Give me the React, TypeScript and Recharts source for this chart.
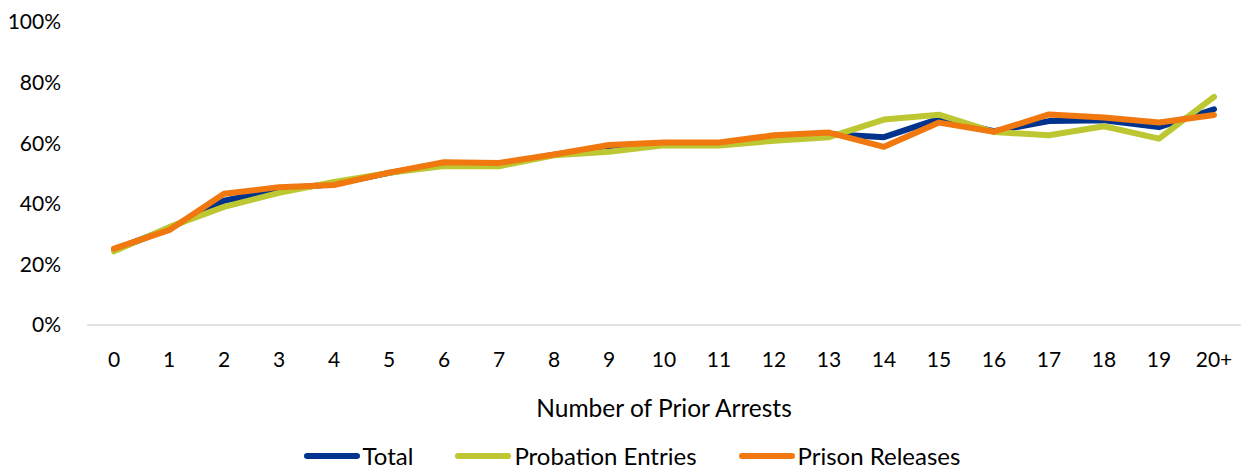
import { LineChart, Line, XAxis, YAxis, Legend, Label } from 'recharts'

const categories = ['0', '1', '2', '3', '4', '5', '6', '7', '8', '9', '10', '11', '12', '13', '14', '15', '16', '17', '18', '19', '20+']
const total = [24.8, 31.8, 41.0, 44.8, 46.5, 50.2, 53.3, 53.0, 56.2, 58.8, 60.0, 59.8, 62.0, 63.0, 62.0, 68.0, 64.0, 67.3, 67.6, 65.3, 71.2]
const probation = [24.3, 32.3, 39.0, 43.6, 47.2, 50.2, 52.5, 52.4, 56.0, 57.2, 59.3, 59.2, 60.8, 62.0, 67.8, 69.4, 63.7, 62.6, 65.6, 61.5, 75.3]
const prison = [25.2, 31.3, 43.3, 45.5, 46.2, 50.3, 53.7, 53.5, 56.3, 59.4, 60.2, 60.2, 62.6, 63.5, 58.8, 66.8, 63.8, 69.5, 68.5, 66.8, 69.3]
const yTicks = [0, 20, 40, 60, 80, 100]

const series = [
  { key: 'total', name: 'Total', color: '#00338D' },
  { key: 'probation', name: 'Probation Entries', color: '#BDC732' },
  { key: 'prison', name: 'Prison Releases', color: '#F0780F' },
]

const data = categories.map((c, i) => ({
  label: c,
  total: total[i],
  probation: probation[i],
  prison: prison[i],
}))

const FONT = 'Lato, "Open Sans", sans-serif'

function LegendContent() {
  return (
    <div style={{ display: 'flex', justifyContent: 'center', alignItems: 'center', height: 26, lineHeight: '26px', paddingLeft: 22, gap: 41, fontFamily: FONT, fontSize: 24, color: '#000' }}>
      {series.map(s => (
        <div key={s.key} style={{ display: 'flex', alignItems: 'center' }}>
          <svg width={58} height={10} style={{ marginRight: 2 }}>
            <line x1={4} y1={5} x2={54} y2={5} stroke={s.color} strokeWidth={6} strokeLinecap="round" />
          </svg>
          <span>{s.name}</span>
        </div>
      ))}
    </div>
  )
}

export default function App() {
  return (
    <div style={{ position: 'absolute', left: 0, top: 0, background: '#fff' }}>
      <LineChart width={1244} height={471} data={data} margin={{ top: 22, right: 3, left: 0, bottom: 0 }}>
        <XAxis
          dataKey="label"
          interval={0}
          padding={{ left: 27, right: 27 }}
          tickLine={false}
          axisLine={{ stroke: '#D9D9D9', strokeWidth: 1.5 }}
          tickMargin={21}
          tick={{ fontSize: 21, fill: '#000', fontFamily: FONT }}
          height={118}
        >
          <Label value="Number of Prior Arrests" position="insideBottom" offset={26} style={{ fontSize: 24.5, fill: '#000', fontFamily: FONT }} />
        </XAxis>
        <YAxis
          width={87}
          domain={[0, 100]}
          ticks={yTicks}
          tickFormatter={(v: number) => `${v}%`}
          tickLine={false}
          axisLine={false}
          tickSize={24}
          tick={{ fontSize: 21, fill: '#000', fontFamily: FONT }}
        />
        <Legend verticalAlign="bottom" height={28} content={<LegendContent />} />
        {series.map(s => (
          <Line
            key={s.key}
            dataKey={s.key}
            name={s.name}
            stroke={s.color}
            strokeWidth={6}
            strokeLinecap="round"
            strokeLinejoin="round"
            dot={false}
            activeDot={false}
            isAnimationActive={false}
          />
        ))}
      </LineChart>
    </div>
  )
}
